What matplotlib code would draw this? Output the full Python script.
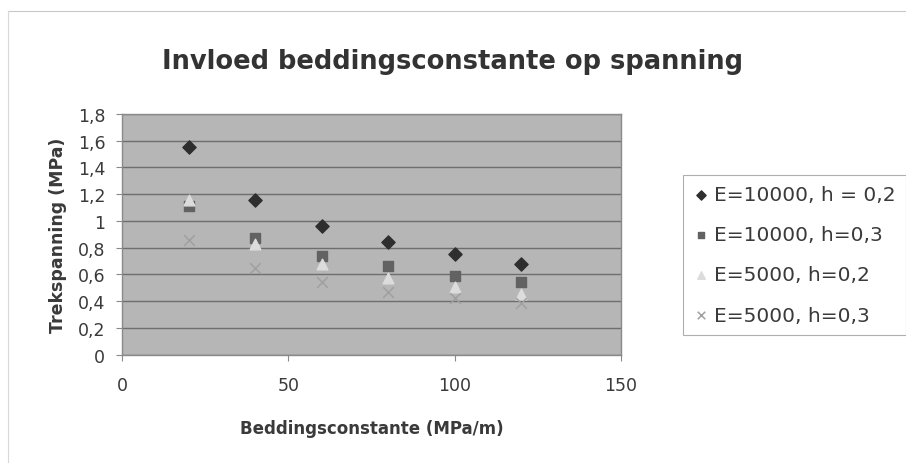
import matplotlib.pyplot as plt
from matplotlib.ticker import FuncFormatter
from matplotlib.lines import Line2D

plt.rcParams['font.family'] = ['DejaVu Sans']

# Beddingsconstante (MPa/m)
k = [20, 40, 60, 80, 100, 120]

# Trekspanning (MPa) per case
s_e10000_h02 = [1.55, 1.16, 0.96, 0.84, 0.75, 0.68]
s_e10000_h03 = [1.11, 0.87, 0.74, 0.66, 0.59, 0.545]
s_e5000_h02 = [1.155, 0.83, 0.675, 0.57, 0.505, 0.455]
s_e5000_h03 = [0.855, 0.645, 0.54, 0.47, 0.425, 0.385]

labels = ['E=10000, h = 0,2', 'E=10000, h=0,3', 'E=5000, h=0,2', 'E=5000, h=0,3']

fig = plt.figure(figsize=(9.06, 4.64), dpi=100)
fig.patch.set_facecolor('white')

# faint outline of the chart area
fig.add_artist(Line2D([8 / 906, 906 / 906], [1 - 12 / 464, 1 - 12 / 464],
                      color='#c8c8c8', lw=0.8))
fig.add_artist(Line2D([8 / 906, 8 / 906], [1 - 12 / 464, 0],
                      color='#d8d8d8', lw=0.8))

ax = fig.add_axes([122 / 906, 1 - 355.7 / 464, (621 - 122) / 906, (355.7 - 115) / 464])
ax.set_facecolor('#b6b6b6')

ax.scatter(k, s_e10000_h02, marker='D', s=45, color='#2e2e2e', label=labels[0], zorder=3)
ax.scatter(k, s_e10000_h03, marker='s', s=45, color='#626262', label=labels[1], zorder=3)
ax.scatter(k, s_e5000_h02, marker='^', s=60, color='#dcdcdc', label=labels[2], zorder=3)
ax.scatter(k, s_e5000_h03, marker='x', s=60, color='#a0a0a0', linewidths=1.1,
           label=labels[3], zorder=3)

ax.set_xlim(0, 150)
ax.set_ylim(0, 1.8)
ax.set_xticks([0, 50, 100, 150])
ax.set_yticks([0, 0.2, 0.4, 0.6, 0.8, 1.0, 1.2, 1.4, 1.6, 1.8])
ax.yaxis.set_major_formatter(FuncFormatter(
    lambda v, p: ('%g' % round(v, 1)).replace('.', ',')))
ax.grid(axis='y', color='#6e6e6e', lw=1.0)
ax.set_axisbelow(True)
for sp in ax.spines.values():
    sp.set_color('#8a8a8a')
    sp.set_linewidth(1.0)
ax.tick_params(axis='both', labelsize=12.5, colors='#8a8a8a', labelcolor='#3a3a3a',
               length=4, width=0.8)
ax.tick_params(axis='x', pad=11)
ax.tick_params(axis='y', pad=8)

ax.set_xlabel('Beddingsconstante (MPa/m)', fontsize=12, fontweight='bold',
              color='#3a3a3a', labelpad=18)
ax.set_ylabel('Trekspanning (MPa)', fontsize=12.5, fontweight='bold',
              color='#3a3a3a', labelpad=8)

fig.text(0.5, 1 - 69 / 464, 'Invloed beddingsconstante op spanning', ha='center',
         va='baseline', fontsize=18.5, fontweight='bold', color='#333333')

leg = ax.legend(loc='upper left', bbox_to_anchor=(683 / 906, 1 - 176 / 464),
                bbox_transform=fig.transFigure, borderaxespad=0, fontsize=14.5,
                frameon=True, fancybox=False, handletextpad=0.25, borderpad=0.5,
                labelspacing=1.05, handlelength=0.8, markerscale=0.7,
                labelcolor='#3a3a3a')
leg.get_frame().set_edgecolor('#9a9a9a')
leg.get_frame().set_linewidth(0.8)

fig.savefig('out.png', dpi=100)
